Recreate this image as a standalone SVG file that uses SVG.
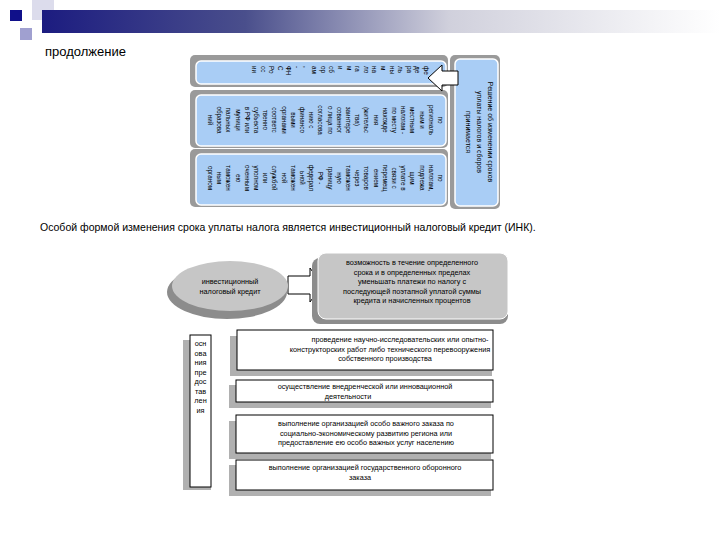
<svg xmlns="http://www.w3.org/2000/svg" width="720" height="540" viewBox="0 0 720 540">
<defs>
<linearGradient id="hdr" x1="0" x2="1" y1="0" y2="0">
<stop offset="0" stop-color="#1c1c80"/>
<stop offset="0.3" stop-color="#4a4f8c"/>
<stop offset="0.6" stop-color="#d0d0dc"/>
<stop offset="1" stop-color="#ffffff"/>
</linearGradient>
</defs>
<style>
text{font-family:"Liberation Sans",Arial,sans-serif;fill:#000}
.v{font-size:6.3px;text-anchor:middle}
.s{font-size:6.3px}
.b{font-size:7.3px;text-anchor:middle}
.blue{fill:#a9cdf5;stroke:#fff;stroke-width:1.5}
.sh{fill:#9a9a9a}
.wb{fill:#fff;stroke:#000;stroke-width:1}
</style>
<rect width="720" height="540" fill="#fff"/>
<g id="header">
<rect x="32" y="0" width="22" height="20" fill="#dcdcec"/>
<rect x="20" y="28" width="12" height="12" fill="#a0a0d0"/>
<rect x="42" y="10" width="678" height="23" fill="url(#hdr)"/>
<rect x="10" y="10" width="12" height="11" fill="#10108a"/>
</g>
<text x="45" y="56" style="font-size:13px">продолжение</text>
<text x="40" y="231" style="font-size:10.5px">Особой формой изменения срока уплаты налога является инвестиционный налоговый кредит (ИНК).</text>

<g id="top-strip">
<rect x="190" y="55" width="258" height="32" rx="5" class="sh"/>
<rect x="196" y="61" width="250" height="23" rx="5" class="blue"/>
<g transform="translate(0,66)">
<text class="s" transform="translate(424,0) rotate(90)">фе</text>
<text class="s" transform="translate(415.4,0) rotate(90)">де</text>
<text class="s" transform="translate(406.8,0) rotate(90)">ра</text>
<text class="s" transform="translate(398.2,0) rotate(90)">ль</text>
<text class="s" transform="translate(389.6,0) rotate(90)">ны</text>
<text class="s" transform="translate(381,0) rotate(90)">м</text>
<text class="s" transform="translate(372.4,0) rotate(90)">на</text>
<text class="s" transform="translate(363.8,0) rotate(90)">ло</text>
<text class="s" transform="translate(355.2,0) rotate(90)">га</text>
<text class="s" transform="translate(346.6,0) rotate(90)">м</text>
<text class="s" transform="translate(338,0) rotate(90)">и</text>
<text class="s" transform="translate(329.4,0) rotate(90)">сб</text>
<text class="s" transform="translate(320.8,0) rotate(90)">ор</text>
<text class="s" transform="translate(312.2,0) rotate(90)">ам</text>
<text class="s" transform="translate(303.6,0) rotate(90)">,</text>
<text class="s" transform="translate(295,0) rotate(90)">-</text>
<text class="s" transform="translate(286.4,0) rotate(90)">ФН</text>
<text class="s" transform="translate(277.8,0) rotate(90)">С</text>
<text class="s" transform="translate(269.2,0) rotate(90)">Ро</text>
<text class="s" transform="translate(260.6,0) rotate(90)">сс</text>
<text class="s" transform="translate(252,0) rotate(90)">ии</text>
</g>
</g>

<g id="box-regional">
<rect x="190" y="90" width="258" height="58" rx="5" class="sh"/>
<rect x="196" y="95" width="250" height="51" rx="5" class="blue"/>
<text class="v" transform="translate(438,120) rotate(90)">
<tspan x="0" dy="0">по</tspan><tspan x="0" dy="9.2">региональ</tspan><tspan x="0" dy="9.2">ным и</tspan><tspan x="0" dy="9.2">местным</tspan><tspan x="0" dy="9.2">налогам -</tspan><tspan x="0" dy="9.2">по месту</tspan><tspan x="0" dy="9.2">нахожде</tspan><tspan x="0" dy="9.2">ния</tspan><tspan x="0" dy="9.2">(жительс</tspan><tspan x="0" dy="9.2">тва)</tspan><tspan x="0" dy="9.2">заинтере</tspan><tspan x="0" dy="9.2">сованног</tspan><tspan x="0" dy="9.2">о лица по</tspan><tspan x="0" dy="9.2">согласова</tspan><tspan x="0" dy="9.2">нию с</tspan><tspan x="0" dy="9.2">финансо</tspan><tspan x="0" dy="9.2">выми</tspan><tspan x="0" dy="9.2">органами</tspan><tspan x="0" dy="9.2">соответс</tspan><tspan x="0" dy="9.2">твенно</tspan><tspan x="0" dy="9.2">субъекта</tspan><tspan x="0" dy="9.2">в РФ или</tspan><tspan x="0" dy="9.2">муници</tspan><tspan x="0" dy="9.2">пальных</tspan><tspan x="0" dy="9.2">образова</tspan><tspan x="0" dy="9.2">ний</tspan>
</text>
</g>

<g id="box-customs">
<rect x="190" y="149" width="258" height="58" rx="5" class="sh"/>
<rect x="196" y="154" width="250" height="51" rx="5" class="blue"/>
<text class="v" transform="translate(438,178) rotate(90)">
<tspan x="0" dy="0">по</tspan><tspan x="0" dy="9.2">налогам,</tspan><tspan x="0" dy="9.2">подлежа</tspan><tspan x="0" dy="9.2">щим</tspan><tspan x="0" dy="9.2">уплате в</tspan><tspan x="0" dy="9.2">связи с</tspan><tspan x="0" dy="9.2">перемещ</tspan><tspan x="0" dy="9.2">ением</tspan><tspan x="0" dy="9.2">товаров</tspan><tspan x="0" dy="9.2">через</tspan><tspan x="0" dy="9.2">таможен</tspan><tspan x="0" dy="9.2">ную</tspan><tspan x="0" dy="9.2">границу</tspan><tspan x="0" dy="9.2">РФ -</tspan><tspan x="0" dy="9.2">федерал</tspan><tspan x="0" dy="9.2">ьной</tspan><tspan x="0" dy="9.2">таможен</tspan><tspan x="0" dy="9.2">ной</tspan><tspan x="0" dy="9.2">службой</tspan><tspan x="0" dy="9.2">или</tspan><tspan x="0" dy="9.2">уполном</tspan><tspan x="0" dy="9.2">оченным</tspan><tspan x="0" dy="9.2">ею</tspan><tspan x="0" dy="9.2">таможен</tspan><tspan x="0" dy="9.2">ным</tspan><tspan x="0" dy="9.2">органом</tspan>
</text>
</g>

<g id="box-decision">
<rect x="450" y="55" width="50" height="154" rx="5" class="sh"/>
<rect x="455" y="59" width="43" height="147" rx="5" class="blue"/>
<text class="v" style="font-size:7px" transform="translate(488,132) rotate(90)">
<tspan x="0" dy="0">Решение об изменении сроков</tspan><tspan x="0" dy="11">уплаты налогов и сборов</tspan><tspan x="0" dy="11">принимается</tspan>
</text>
</g>

<g id="connectors">
<path d="M458,71 H442 V65 L428,78 L442,91 V85 H458 Z" fill="#fff" stroke="#000" stroke-width="1"/>
<path d="M288,276 H310 V268 L322,285 L310,302 V294 H288 Z" fill="#fff" stroke="#000" stroke-width="1"/>
</g>

<g id="ink">
<ellipse cx="227" cy="292" rx="60" ry="27" fill="#8c8c8c"/>
<ellipse cx="230" cy="286" rx="58" ry="25" fill="#c6c6c6"/>
<text class="b" x="230" y="284">инвестиционный</text>
<text class="b" x="230" y="294">налоговый кредит</text>
</g>

<g id="possibility">
<rect x="312" y="258" width="196" height="66" rx="8" fill="#8c8c8c"/>
<rect x="318" y="253" width="190" height="66" rx="8" fill="#c6c6c6" stroke="#fff"/>
<text class="b" x="412" y="265">
<tspan x="412" dy="0">возможность в течение определенного</tspan><tspan x="412" dy="9.5">срока и в определенных пределах</tspan><tspan x="412" dy="9.5">уменьшать платежи по налогу с</tspan><tspan x="412" dy="9.5">последующей поэтапной уплатой суммы</tspan><tspan x="412" dy="9.5">кредита и начисленных процентов</tspan>
</text>
</g>

<g id="grounds">
<rect x="183" y="340" width="28" height="150" fill="#b0b0b0"/>
<rect x="190" y="335" width="21" height="152" class="wb"/>
<text class="b" x="200.5" y="346"><tspan x="200.5" dy="0">осн</tspan><tspan x="200.5" dy="9.5">ова</tspan><tspan x="200.5" dy="9.5">ния</tspan><tspan x="200.5" dy="9.5">пре</tspan><tspan x="200.5" dy="9.5">дос</tspan><tspan x="200.5" dy="9.5">тав</tspan><tspan x="200.5" dy="9.5">лен</tspan><tspan x="200.5" dy="9.5">ия</tspan></text>
</g>

<g id="g1">
<rect x="230" y="336" width="262" height="40" fill="#b0b0b0"/>
<rect x="237" y="330" width="256" height="40" class="wb"/>
<text class="b" x="400" y="342"><tspan x="400" dy="0">проведение научно-исследовательских или опытно-</tspan><tspan x="390" dy="9.5">конструкторских работ либо технического перевооружения</tspan><tspan x="385" dy="9.5">собственного производства</tspan></text>
</g>
<g id="g2">
<rect x="229" y="385" width="262" height="23" fill="#b0b0b0"/>
<rect x="236" y="380" width="257" height="22" class="wb"/>
<text class="b" x="365" y="389"><tspan x="365" dy="0">осуществление внедренческой или инновационной</tspan><tspan x="348" dy="9.5">деятельности</tspan></text>
</g>
<g id="g3">
<rect x="229" y="421" width="262" height="38" fill="#b0b0b0"/>
<rect x="236" y="415" width="257" height="38" class="wb"/>
<text class="b" x="366" y="426"><tspan x="366" dy="0">выполнение организацией особо важного заказа по</tspan><tspan x="366" dy="9.5">социально-экономическому развитию региона или</tspan><tspan x="366" dy="9.5">предоставление ею особо важных услуг населению</tspan></text>
</g>
<g id="g4">
<rect x="229" y="465" width="262" height="31" fill="#b0b0b0"/>
<rect x="236" y="460" width="257" height="30" class="wb"/>
<text class="b" x="365" y="470"><tspan x="365" dy="0">выполнение организацией государственного оборонного</tspan><tspan x="360" dy="9.5">заказа</tspan></text>
</g>
</svg>
